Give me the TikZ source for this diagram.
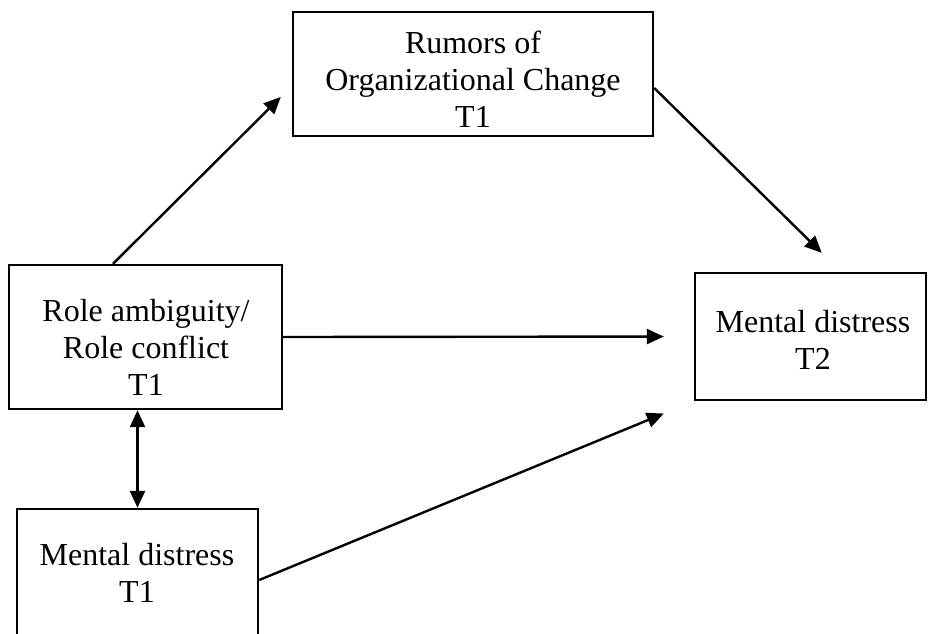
\documentclass[tikz,border=0pt]{standalone}
\usepackage{fontspec}
\setmainfont{Liberation Serif}
\usetikzlibrary{arrows.meta,calc}
\begin{document}
\begin{tikzpicture}[x=1pt,y=-1pt,
  box/.style={draw=black,line width=2.4pt,rectangle,inner sep=0pt,fill=white},
  txt/.style={align=center,inner sep=0pt,font=\fontsize{32}{37}\selectfont},
  link/.style={line width=2.4pt,-{Triangle[length=17pt,width=15pt]}},
  twoway/.style={line width=2.4pt,{Triangle[length=17pt,width=15pt]}-{Triangle[length=17pt,width=15pt]}}]
\useasboundingbox[fill=white] (0,0) rectangle (928,633);

% boxes
\node[box,minimum width=360pt,minimum height=124pt] (rumors) at (473,74) {};
\node[box,minimum width=273pt,minimum height=144pt] (role) at (145.5,337) {};
\node[box,minimum width=231pt,minimum height=127pt] (md2) at (810.5,336.5) {};
\node[box,minimum width=241pt,minimum height=128pt] (md1) at (137.5,573) {};

% labels
\node[txt] (rumorsT) at (473,79) {Rumors of\\Organizational Change\\T1};
\node[txt] (roleT) at (146,347) {Role ambiguity/\\Role conflict\\T1};
\node[txt] (md2T) at (813,340) {Mental distress\\T2};
\node[txt] (md1T) at (137,573) {Mental distress\\T1};

% paths
\draw[link,shorten >=15.5pt] ([xshift=-32.5pt]role.north) -- ([yshift=-12pt]rumors.west);
\draw[link,shorten >=27pt] ([yshift=-14pt]rumors.east) -- ([xshift=30.5pt]md2.north);
\draw[link,shorten >=30pt] (role.east) -- (md2.west);
\draw[link,shorten >=32.4pt] ([yshift=-7pt]md1.east) -- (md2.south west);
\draw[twoway] (md1.north) -- (md1.north |- role.south);
\end{tikzpicture}
\end{document}
